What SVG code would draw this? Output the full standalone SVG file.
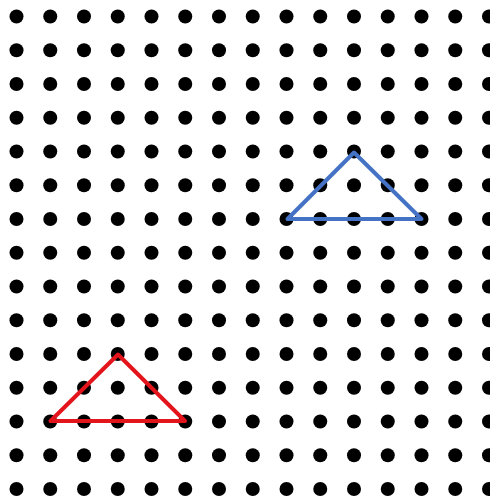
<svg xmlns="http://www.w3.org/2000/svg" xmlns:xlink="http://www.w3.org/1999/xlink" width="490" height="497" viewBox="0 0 490 497">
<style>
.dot{fill:#000}
.tri{fill:none;stroke-width:4;stroke-linejoin:round;stroke-linecap:round}
</style>
<defs>
<g id="row">
<circle class="dot" cx="16.5" cy="0" r="7"/><circle class="dot" cx="50.25" cy="0" r="7"/><circle class="dot" cx="84" cy="0" r="7"/><circle class="dot" cx="117.75" cy="0" r="7"/><circle class="dot" cx="151.5" cy="0" r="7"/><circle class="dot" cx="185.25" cy="0" r="7"/><circle class="dot" cx="219" cy="0" r="7"/><circle class="dot" cx="252.75" cy="0" r="7"/><circle class="dot" cx="286.5" cy="0" r="7"/><circle class="dot" cx="320.25" cy="0" r="7"/><circle class="dot" cx="354" cy="0" r="7"/><circle class="dot" cx="387.75" cy="0" r="7"/><circle class="dot" cx="421.5" cy="0" r="7"/><circle class="dot" cx="455.25" cy="0" r="7"/><circle class="dot" cx="489" cy="0" r="7"/>
</g>
</defs>
<rect width="490" height="497" fill="#fff"/>
<g id="grid">
<use xlink:href="#row" y="16.5"/><use xlink:href="#row" y="50.25"/><use xlink:href="#row" y="84"/><use xlink:href="#row" y="117.75"/><use xlink:href="#row" y="151.5"/><use xlink:href="#row" y="185.25"/><use xlink:href="#row" y="219"/><use xlink:href="#row" y="252.75"/><use xlink:href="#row" y="286.5"/><use xlink:href="#row" y="320.25"/><use xlink:href="#row" y="354"/><use xlink:href="#row" y="387.75"/><use xlink:href="#row" y="421.5"/><use xlink:href="#row" y="455.25"/><use xlink:href="#row" y="489"/>
</g>
<g id="blue-triangle">
<polygon class="tri" stroke="#4472C4" points="354,152.5 287.5,219 421.5,219"/>
</g>
<g id="red-triangle">
<polygon class="tri" stroke="#E3141B" points="118,354.5 50.5,421 185,421"/>
</g>
</svg>
